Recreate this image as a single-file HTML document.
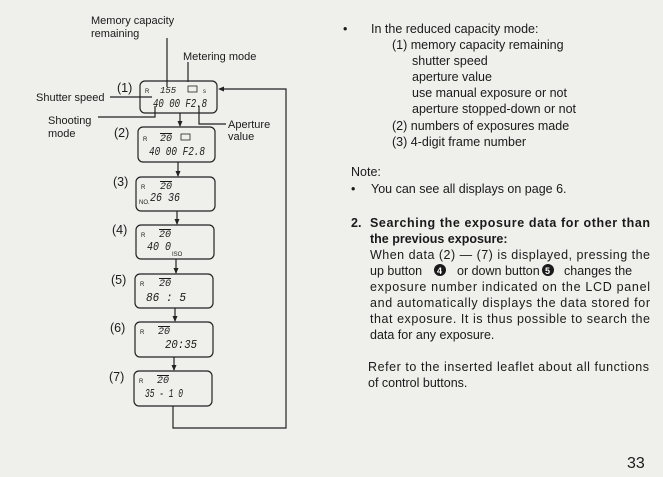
<!DOCTYPE html>
<html><head><meta charset="utf-8"><style>
html,body{margin:0;padding:0;background:#efefec;}
svg{display:block;}
text{font-family:"Liberation Sans",sans-serif;fill:#1a1a1a;}
.t{font-size:12.5px;}
.s{font-size:11px;}
.b{font-size:12.5px;font-weight:bold;}
.lcd{font-family:"Liberation Mono",monospace;font-size:12px;font-style:italic;}
.sm{font-family:"Liberation Sans",sans-serif;font-size:6px;}
</style></head><body>
<svg width="663" height="477" viewBox="0 0 663 477" xmlns="http://www.w3.org/2000/svg">
<rect width="663" height="477" fill="#efefec"/>
<g stroke="#222" stroke-width="1.2" fill="none">
<rect x="140" y="81" width="77" height="32" rx="5"/>
<rect x="138" y="127" width="77" height="35" rx="5"/>
<rect x="136" y="177" width="79" height="34" rx="5"/>
<rect x="136" y="225" width="78" height="34" rx="5"/>
<rect x="135" y="274" width="78" height="34" rx="5"/>
<rect x="135" y="322" width="78" height="35" rx="5"/>
<rect x="134" y="371" width="78" height="35" rx="5"/>
<line x1="180" y1="113" x2="180" y2="126"/>
<line x1="178" y1="162" x2="178" y2="176"/>
<line x1="177" y1="211" x2="177" y2="224"/>
<line x1="176" y1="259" x2="176" y2="273"/>
<line x1="175" y1="308" x2="175" y2="321"/>
<line x1="174" y1="357" x2="174" y2="370"/>
<polyline points="173,406 173,428 286,428 286,89 220,89"/>
<line x1="167" y1="38" x2="167" y2="87"/>
<line x1="188" y1="62" x2="188" y2="82"/>
<line x1="110" y1="97" x2="152" y2="97"/>
<polyline points="98,117 155,117 155,106"/>
<polyline points="199,106 199,124 226,124"/>
</g>
<g fill="#222">
<polygon points="218,89 224,86.5 224,91.5"/>
<polygon points="180,127 177.5,121 182.5,121"/>
<polygon points="178,177 175.5,171 180.5,171"/>
<polygon points="177,225 174.5,219 179.5,219"/>
<polygon points="176,274 173.5,268 178.5,268"/>
<polygon points="175,322 172.5,316 177.5,316"/>
<polygon points="174,371 171.5,365 176.5,365"/>
</g>
<text class="s" x="91" y="24">Memory capacity</text>
<text class="s" x="91" y="37">remaining</text>
<text class="s" x="183" y="60">Metering mode</text>
<text class="t" x="117" y="92">(1)</text>
<text class="s" x="36" y="101">Shutter speed</text>
<text class="s" x="48" y="124">Shooting</text>
<text class="s" x="48" y="137">mode</text>
<text class="s" x="228" y="128">Aperture</text>
<text class="s" x="228" y="140">value</text>
<text class="t" x="114" y="137">(2)</text>
<text class="t" x="113" y="186">(3)</text>
<text class="t" x="112" y="234">(4)</text>
<text class="t" x="111" y="284">(5)</text>
<text class="t" x="110" y="332">(6)</text>
<text class="t" x="109" y="381">(7)</text>
<text class="sm" x="145" y="93">R</text><text class="lcd" x="160" y="93" style="font-size:9px">155</text>
<rect x="188" y="86" width="9" height="6" fill="none" stroke="#222" stroke-width="0.8"/><text class="sm" x="203" y="93">s</text>
<text class="lcd" x="153" y="107" textLength="54" lengthAdjust="spacingAndGlyphs">40 00 F2.8</text>
<text class="sm" x="143" y="141">R</text><text class="lcd" x="160" y="141" style="font-size:10px;text-decoration:overline">20</text>
<rect x="181" y="134" width="9" height="6" fill="none" stroke="#222" stroke-width="0.8"/>
<text class="lcd" x="149" y="155" textLength="56" lengthAdjust="spacingAndGlyphs">40 00 F2.8</text>
<text class="sm" x="141" y="189">R</text><text class="lcd" x="160" y="189" style="font-size:10px;text-decoration:overline">20</text>
<text class="sm" x="139" y="204">NO.</text><text class="lcd" x="150" y="201" textLength="30" lengthAdjust="spacingAndGlyphs">26 36</text>
<text class="sm" x="141" y="237">R</text><text class="lcd" x="159" y="237" style="font-size:10px;text-decoration:overline">20</text>
<text class="lcd" x="147" y="250" textLength="24" lengthAdjust="spacingAndGlyphs">40 0</text><text class="sm" x="172" y="256">ISO</text>
<text class="sm" x="140" y="286">R</text><text class="lcd" x="159" y="286" style="font-size:10px;text-decoration:overline">20</text>
<text class="lcd" x="146" y="301" textLength="40" lengthAdjust="spacingAndGlyphs">86  : 5</text>
<text class="sm" x="140" y="334">R</text><text class="lcd" x="158" y="334" style="font-size:10px;text-decoration:overline">20</text>
<text class="lcd" x="165" y="348" textLength="32" lengthAdjust="spacingAndGlyphs">20:35</text>
<text class="sm" x="139" y="383">R</text><text class="lcd" x="157" y="383" style="font-size:10px;text-decoration:overline">20</text>
<text class="lcd" x="145" y="397" textLength="38" lengthAdjust="spacingAndGlyphs">35 - 1 0</text>
<text class="t" x="343" y="33">•</text>
<text class="t" x="371" y="33">In the reduced capacity mode:</text>
<text class="t" x="392" y="49">(1) memory capacity remaining</text>
<text class="t" x="412" y="65">shutter speed</text>
<text class="t" x="412" y="81">aperture value</text>
<text class="t" x="412" y="97">use manual exposure or not</text>
<text class="t" x="412" y="113">aperture stopped-down or not</text>
<text class="t" x="392" y="130">(2) numbers of exposures made</text>
<text class="t" x="392" y="146">(3) 4-digit frame number</text>
<text class="t" x="351" y="176">Note:</text>
<text class="t" x="351" y="193">•</text>
<text class="t" x="371" y="193">You can see all displays on page 6.</text>
<text class="b" x="351" y="227">2.</text>
<text class="b" x="370" y="227" textLength="280">Searching the exposure data for other than</text>
<text class="b" x="370" y="243">the previous exposure:</text>
<text class="t" x="370" y="259" textLength="280">When data (2) — (7) is displayed, pressing the</text>
<text class="t" x="370" y="275">up button</text>
<circle cx="440" cy="270" r="6" fill="#1a1a1a"/><text x="437" y="274" style="font-size:9px;font-weight:bold;fill:#fff">4</text>
<text class="t" x="457" y="275">or down button</text>
<circle cx="548" cy="270" r="6" fill="#1a1a1a"/><text x="545" y="274" style="font-size:9px;font-weight:bold;fill:#fff">5</text>
<text class="t" x="564" y="275">changes the</text>
<text class="t" x="370" y="291" textLength="280">exposure number indicated on the LCD panel</text>
<text class="t" x="370" y="307" textLength="280">and automatically displays the data stored for</text>
<text class="t" x="370" y="323" textLength="280">that exposure. It is thus possible to search the</text>
<text class="t" x="370" y="339">data for any exposure.</text>
<text class="t" x="368" y="371" textLength="281">Refer to the inserted leaflet about all functions</text>
<text class="t" x="368" y="387">of control buttons.</text>
<text x="627" y="468" style="font-size:16px">33</text>
</svg>
</body></html>
